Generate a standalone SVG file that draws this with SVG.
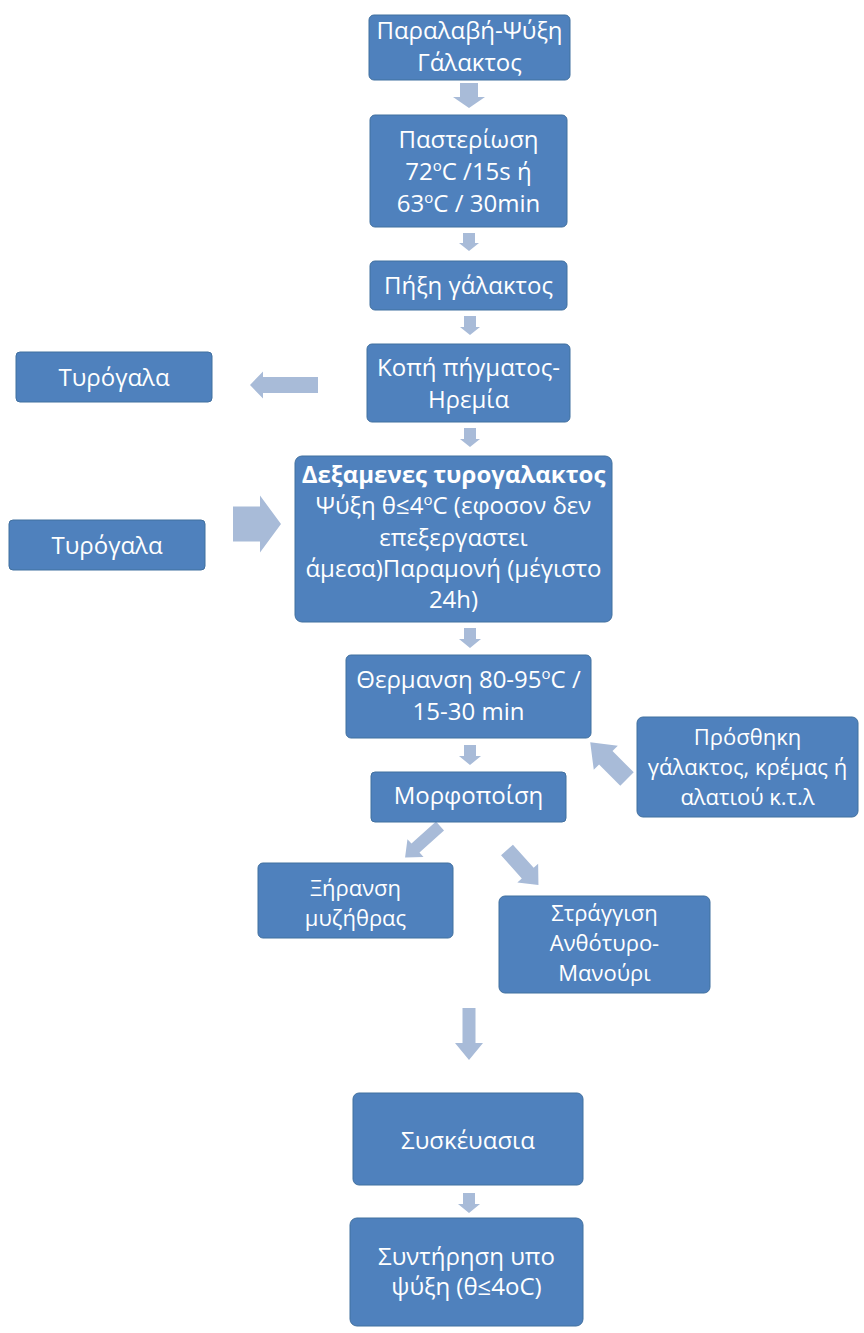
<svg xmlns="http://www.w3.org/2000/svg" width="864" height="1333" viewBox="0 0 864 1333">
<style>
.box{fill:#4F81BD;stroke:#41709F;stroke-width:1}
.t{font-family:"Open Sans","Noto Sans","Liberation Sans",sans-serif;font-size:24px;fill:#FFFFFF;text-anchor:middle}
.s{font-size:22px}
.b{font-weight:bold}
.arr{fill:#A8BBD8}
</style>
<rect width="864" height="1333" fill="#FFFFFF"/>
<g id="connectors">
<path class="arr" d="M0,-9 H14 V-16 L25,0 L14,16 V9 H0 Z" transform="translate(469,83) rotate(90)"/>
<path class="arr" d="M0,-6 H10 V-10 L18,0 L10,10 V6 H0 Z" transform="translate(469,233) rotate(90)"/>
<path class="arr" d="M0,-6 H11 V-10 L19,0 L11,10 V6 H0 Z" transform="translate(470,316) rotate(90)"/>
<path class="arr" d="M0,-6 H11 V-10 L19,0 L11,10 V6 H0 Z" transform="translate(470,428) rotate(90)"/>
<path class="arr" d="M0,-6 H11 V-11 L20,0 L11,11 V6 H0 Z" transform="translate(470,628) rotate(90)"/>
<path class="arr" d="M0,-6 H11 V-11 L20,0 L11,11 V6 H0 Z" transform="translate(470,745) rotate(90)"/>
<path class="arr" d="M0,-6.5 H35 V-14 L52,0 L35,14 V6.5 H0 Z" transform="translate(469,1008) rotate(90)"/>
<path class="arr" d="M0,-6 H11 V-11 L20,0 L11,11 V6 H0 Z" transform="translate(469,1193) rotate(90)"/>
<path class="arr" d="M0,-8 H55 V-13.5 L68,0 L55,13.5 V8 H0 Z" transform="translate(318,385) rotate(180)"/>
<path class="arr" d="M0,-17.5 H27 V-28.5 L48,0 L27,28.5 V17.5 H0 Z" transform="translate(233,524)"/>
<path class="arr" d="M0,-9.5 H30 V-17 L52,0 L30,17 V9.5 H0 Z" transform="translate(627,779) rotate(225)"/>
<path class="arr" d="M0,-6 H33 V-12 L47,0 L33,12 V6 H0 Z" transform="translate(440,826) rotate(138)"/>
<path class="arr" d="M0,-8 H31 V-14 L47,0 L31,14 V8 H0 Z" transform="translate(507,850) rotate(48)"/>
</g>
<g id="n1"><rect class="box" x="369" y="15" width="201" height="65" rx="5"/>
<text class="t" x="469.5" y="39">Παραλαβή-Ψύξη</text><text class="t" x="469.5" y="71">Γάλακτος</text></g>
<g id="n2"><rect class="box" x="370" y="115" width="197" height="112" rx="5"/>
<text class="t" x="468.5" y="148">Παστερίωση</text>
<text class="t" x="468.5" y="180">72<tspan font-size="15" dy="-9">o</tspan><tspan dy="9">C /15s ή</tspan></text>
<text class="t" x="468.5" y="212">63<tspan font-size="15" dy="-9">o</tspan><tspan dy="9">C / 30min</tspan></text></g>
<g id="n3"><rect class="box" x="370" y="261" width="197" height="49" rx="5"/>
<text class="t" x="468.5" y="294">Πήξη γάλακτος</text></g>
<g id="n4"><rect class="box" x="367" y="344" width="203" height="78" rx="5"/>
<text class="t" x="468.5" y="376">Κοπή πήγματος-</text><text class="t" x="468.5" y="408">Ηρεμία</text></g>
<g id="n5"><rect class="box" x="16" y="352" width="196" height="50" rx="4"/>
<text class="t" x="114" y="386">Τυρόγαλα</text></g>
<g id="n6"><rect class="box" x="295" y="456" width="317" height="166" rx="7"/>
<text class="t b" x="453.5" y="483">Δεξαμενες τυρογαλακτος</text>
<text class="t" x="453.5" y="514">Ψύξη θ≤4<tspan font-size="15" dy="-9">o</tspan><tspan dy="9">C (εφοσον δεν</tspan></text>
<text class="t" x="453.5" y="545.5">επεξεργαστει</text>
<text class="t" x="453.5" y="577">άμεσα)Παραμονή (μέγιστο</text>
<text class="t" x="453.5" y="608">24h)</text></g>
<g id="n7"><rect class="box" x="9" y="520" width="196" height="50" rx="4"/>
<text class="t" x="107" y="554">Τυρόγαλα</text></g>
<g id="n8"><rect class="box" x="346" y="655" width="245" height="83" rx="5"/>
<text class="t" x="468.5" y="688">Θερμανση 80-95<tspan font-size="15" dy="-9">o</tspan><tspan dy="9">C /</tspan></text>
<text class="t" x="468.5" y="720">15-30 min</text></g>
<g id="n9"><rect class="box" x="371" y="772" width="195" height="50" rx="4"/>
<text class="t" x="468.5" y="804">Μορφοποίση</text></g>
<g id="n10"><rect class="box" x="637" y="717" width="221" height="100" rx="6"/>
<text class="t s" x="747.5" y="745">Πρόσθηκη</text>
<text class="t s" x="747.5" y="775">γάλακτος, κρέμας ή</text>
<text class="t s" x="747.5" y="805">αλατιού κ.τ.λ</text></g>
<g id="n11"><rect class="box" x="258" y="863" width="195" height="75" rx="5"/>
<text class="t s" x="355.5" y="896">Ξήρανση</text><text class="t s" x="355.5" y="926">μυζήθρας</text></g>
<g id="n12"><rect class="box" x="499" y="896" width="211" height="97" rx="6"/>
<text class="t s" x="604.5" y="921">Στράγγιση</text><text class="t s" x="604.5" y="951">Ανθότυρο-</text><text class="t s" x="604.5" y="981">Μανούρι</text></g>
<g id="n13"><rect class="box" x="353" y="1093" width="230" height="92" rx="6"/>
<text class="t" x="468" y="1149">Συσκέυασια</text></g>
<g id="n14"><rect class="box" x="350" y="1218" width="233" height="108" rx="7"/>
<text class="t" x="466.5" y="1265">Συντήρηση υπο</text><text class="t" x="466.5" y="1295">ψύξη (θ≤4oC)</text></g>
</svg>
